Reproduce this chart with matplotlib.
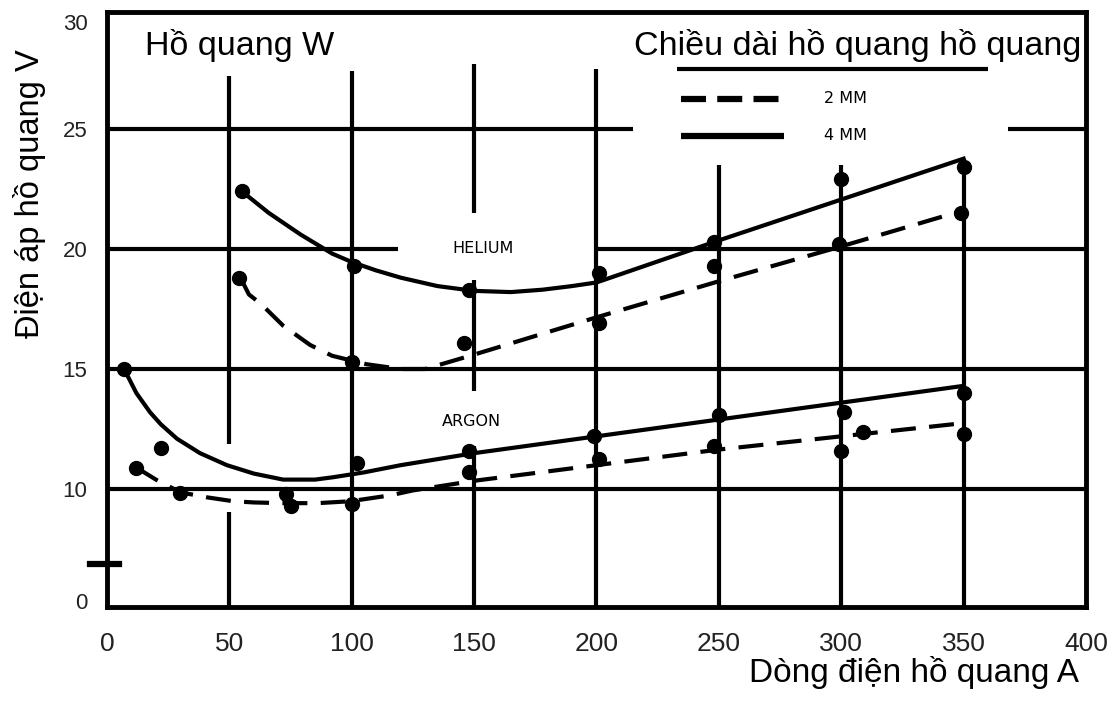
import matplotlib
matplotlib.use("Agg")
import matplotlib.pyplot as plt

plt.rcParams['font.family'] = ['Liberation Sans', 'DejaVu Sans']

# ---------------- data ----------------
# Helium, 4 mm arc length (solid curve)
he4_curve_x = [55, 66, 79, 92, 100, 110, 120, 135, 150, 165, 178, 190, 200, 250, 300, 350]
he4_curve_y = [22.4, 21.5, 20.6, 19.8, 19.45, 19.1, 18.8, 18.45, 18.25, 18.2, 18.3, 18.45, 18.6, 20.35, 22.05, 23.75]
he4_pts_x = [55, 101, 148, 201, 248, 300, 350]
he4_pts_y = [22.4, 19.3, 18.3, 19.0, 20.3, 22.9, 23.4]

# Helium, 2 mm arc length (dashed curve)
he2_curve_x = [55, 58, 63, 72, 83, 92, 106, 120, 130, 150, 200, 250, 300, 350]
he2_curve_y = [18.7, 18.1, 17.7, 16.8, 16.0, 15.55, 15.2, 15.0, 15.0, 15.6, 17.15, 18.65, 20.1, 21.6]
he2_pts_x = [54, 100, 146, 201, 248, 299, 349]
he2_pts_y = [18.8, 15.3, 16.1, 16.9, 19.3, 20.2, 21.5]

# Argon, 4 mm arc length (solid curve)
ar4_curve_x = [6.5, 12, 17.6, 22, 28.6, 38, 49, 60, 72, 85, 92.5, 105, 120, 150, 200, 250, 300, 350]
ar4_curve_y = [15.1, 14.0, 13.2, 12.7, 12.1, 11.5, 11.0, 10.65, 10.4, 10.4, 10.5, 10.7, 11.0, 11.5, 12.2, 12.9, 13.6, 14.3]
ar4_pts_x = [7, 73, 102, 148, 199, 250, 301, 350]
ar4_pts_y = [15.0, 9.8, 11.1, 11.6, 12.2, 13.1, 13.2, 14.0]

# Argon, 2 mm arc length (dashed curve)
ar2_curve_x = [12, 20, 30, 41, 51.6, 60, 72, 86, 99.5, 116, 125, 150, 200, 250, 300, 350]
ar2_curve_y = [10.9, 10.4, 9.87, 9.66, 9.5, 9.45, 9.42, 9.42, 9.5, 9.75, 9.95, 10.35, 11.0, 11.65, 12.2, 12.75]
ar2_pts_x = [12, 22, 30, 75, 100, 148, 201, 248, 300, 309, 350]
ar2_pts_y = [10.9, 11.7, 9.85, 9.3, 9.4, 10.7, 11.25, 11.8, 11.6, 12.4, 12.3]

x_ticks = [0, 50, 100, 150, 200, 250, 300, 350, 400]
x_ticklabels = ['0', '50', '100', '150', '200', '250', '300', '350', '400']
y_ticks = [5.35, 10, 15, 20, 25, 29.45]
y_ticklabels = ['0', '10', '15', '20', '25', '30']

title_left = 'Hồ quang W'
title_right = 'Chiều dài hồ quang hồ quang'
legend_2mm = '2 MM'
legend_4mm = '4 MM'
xlabel = 'Dòng điện hồ quang A'
ylabel = 'Điện áp hồ quang V'

# ---------------- figure ----------------
fig = plt.figure(figsize=(11.11, 7.02), dpi=100)
ax = fig.add_axes([0.0963, 0.1353, 0.8812, 0.8476])
ax.set_xlim(0, 400)
ax.set_ylim(5.1, 29.85)

K = 'black'
GLW = 3.0
# grid segments (broken as in the scan)
hsegs = [(25, 0, 215), (25, 368, 400), (20, 0, 119), (20, 199, 400), (15, 0, 400), (10, 0, 400)]
vsegs = [(50, 11.9, 27.2), (50, 5.1, 9.05), (100, 5.1, 27.4),
         (150, 21.5, 27.7), (150, 14.1, 18.7), (150, 5.1, 11.8),
         (200, 5.1, 27.5), (250, 5.1, 23.5), (300, 5.1, 23.5), (350, 5.1, 23.6)]
for y, x0, x1 in hsegs:
    ax.plot([x0, x1], [y, y], color=K, lw=GLW, solid_capstyle='butt', zorder=1)
for x, y0, y1 in vsegs:
    ax.plot([x, x], [y0, y1], color=K, lw=GLW, solid_capstyle='butt', zorder=1)

dash = (0, (6, 3.2))
LW = 3.0
ax.plot(he4_curve_x, he4_curve_y, color=K, lw=LW, zorder=3)
ax.plot(he2_curve_x, he2_curve_y, color=K, lw=LW, ls=dash, zorder=3)
ax.plot(ar4_curve_x, ar4_curve_y, color=K, lw=LW, zorder=3)
ax.plot(ar2_curve_x, ar2_curve_y, color=K, lw=LW, ls=dash, zorder=3)
MS = 10
for xs, ys in [(he4_pts_x, he4_pts_y), (he2_pts_x, he2_pts_y),
               (ar4_pts_x, ar4_pts_y), (ar2_pts_x, ar2_pts_y)]:
    ax.plot(xs, ys, 'o', color=K, ms=MS, zorder=4)

# axis break mark on the left spine
ax.plot([-7, 5], [6.9, 6.9], color=K, lw=4.5, clip_on=False, zorder=5)

for s in ax.spines.values():
    s.set_linewidth(3.5)
    s.set_color(K)

ax.set_xticks(x_ticks)
ax.set_xticklabels(x_ticklabels, fontsize=19, color='#222222')
ax.set_yticks(y_ticks)
ax.set_yticklabels(y_ticklabels, fontsize=16, color='#222222')
ax.tick_params(length=0)
ax.tick_params(axis='y', pad=14)
ax.tick_params(axis='x', pad=18)

# texts
ax.text(15.5, 28.45, title_left, fontsize=24.5, ha='left', va='center')
ax.text(398, 28.45, title_right, fontsize=24.5, ha='right', va='center')
ax.plot([233, 360], [27.5, 27.5], color=K, lw=3, solid_capstyle='butt')
ax.plot([234.5, 276.7], [26.25, 26.25], color=K, lw=4.5, ls=(0, (4, 1.8)))
ax.plot([234.5, 276.7], [24.7, 24.7], color=K, lw=4.5, solid_capstyle='butt')
small = dict(fontsize=11.5, family=['DejaVu Sans'], va='center')
ax.text(293, 26.25, legend_2mm, ha='left', **small)
ax.text(293, 24.7, legend_4mm, ha='left', **small)
ax.text(153.5, 20.0, 'HELIUM', ha='center', **small)
ax.text(149, 12.8, 'ARGON', ha='center', **small)

fig.text(0.971, 0.018, xlabel, fontsize=24, ha='right', va='bottom')
fig.text(0.027, 0.724, ylabel, fontsize=23.5, ha='center', va='center', rotation=90)

fig.savefig('out.png', dpi=100)
